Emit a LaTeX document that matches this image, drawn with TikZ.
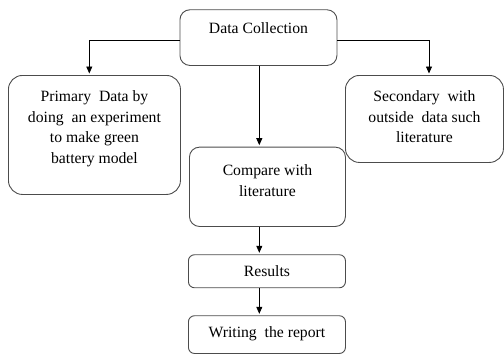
\documentclass[tikz,border=0pt]{standalone}
\usepackage{fontspec}
\setmainfont{Liberation Serif}
\usetikzlibrary{arrows.meta,calc}
\begin{document}
\begin{tikzpicture}[x=1pt,y=-1pt,
  box/.style={draw=black!70, line width=0.9pt, rounded corners=10pt, inner sep=0pt,
    align=center, anchor=north west, font=\fontsize{15.7}{20.7}\selectfont},
  arr/.style={line width=0.8pt, -{Triangle[length=7pt,width=6pt]}, shorten >=1.5pt}]
\useasboundingbox (0,0) rectangle (504,354);
\node[box, minimum width=157pt, text height=24pt, text depth=31.7pt] (dc) at (179.5,9.3) {Data Collection};
\node[box, minimum width=172pt, text height=88pt, text depth=31pt, rounded corners=14pt] (prim) at (8,75)
  {Primary\ \ Data by\\doing\ \ an experiment\\to make green\\battery model};
\node[box, minimum width=158pt, text height=67.3pt, text depth=19.7pt, rounded corners=14pt] (sec) at (345,75)
  {Secondary\ \ with\\outside\ \ data such\\literature};
\node[box, minimum width=156pt, text height=49pt, text depth=30.3pt] (cmp) at (189,146.7)
  {Compare with\\literature};
\node[box, minimum width=157pt, text height=21.7pt, text depth=11.3pt, rounded corners=6pt] (res) at (188,254.3) {Results};
\node[box, minimum width=157pt, text height=22pt, text depth=15.7pt, rounded corners=6pt] (wr) at (188,315.3) {Writing\ \ the report};
\coordinate (lx) at (89.3,40.7);
\coordinate (rx) at (429,40.7);
\coordinate (mx) at (259.3,0);
\draw[arr] (lx -| dc.west) -| (prim.north -| lx);
\draw[arr] (rx -| dc.east) -| (sec.north -| rx);
\draw[arr] (dc.south -| mx) -- (cmp.north -| mx);
\draw[arr] (cmp.south -| mx) -- (res.north -| mx);
\draw[arr] (res.south -| mx) -- (wr.north -| mx);
\end{tikzpicture}
\end{document}
